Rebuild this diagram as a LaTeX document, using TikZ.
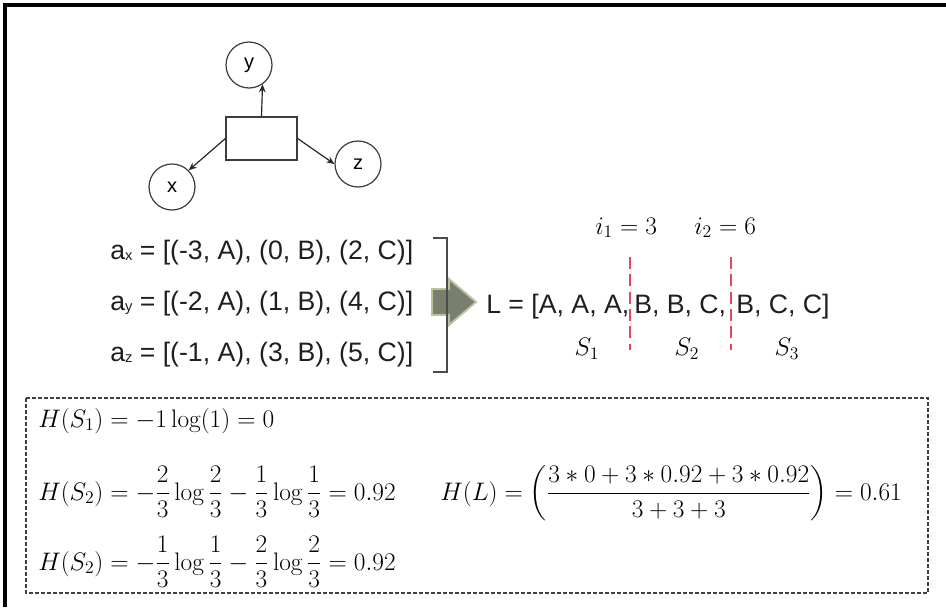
\RequirePackage{fix-cm}
\documentclass[tikz,border=0pt]{standalone}
\usepackage{fontspec}
\usepackage{amsmath}
\newfontfamily\arialf{Liberation Sans}
\usetikzlibrary{arrows.meta}
\definecolor{arrowfill}{RGB}{122,126,110}
\definecolor{arrowglow}{RGB}{182,196,156}
\definecolor{dashred}{RGB}{232,70,90}
\definecolor{linegray}{RGB}{60,60,60}
\begin{document}
\begin{tikzpicture}[x=0.75pt,y=-0.75pt,
  circ/.style={circle,draw=linegray,line width=0.9pt,minimum size=34.5pt,inner sep=0pt,
    font=\arialf\fontsize{15}{15}\selectfont},
  boxnode/.style={rectangle,draw=linegray,line width=0.9pt,minimum width=53.25pt,minimum height=32.25pt,inner sep=0pt},
  conn/.style={-{Stealth[length=6pt,width=5pt]},line width=0.9pt,draw=black!85},
  seq/.style={inner sep=0pt,font=\arialf\fontsize{20}{23}\selectfont,text=black!88},
  mth/.style={inner sep=0pt,font=\fontsize{19}{22}\selectfont,text=black},
  reddash/.style={draw=dashred,line width=1.6pt,dash pattern=on 9pt off 4pt},
  boxdash/.style={draw=black!75,line width=1.4pt,dash pattern=on 3pt off 1.5pt},
  brk/.style={draw=black!70,line width=1pt}
]
\useasboundingbox (0,0) rectangle (946,607);
\fill[white] (0,0) rectangle (946,607);
% outer frame (top and left edges visible)
\draw[line width=2.4pt] (946,5) -- (5,5) -- (5,607);

% small graph
\node[circ] (y) at (249,65) {y};
\node[circ] (x) at (172,187) {x};
\node[circ] (z) at (358,164) {z};
\node[boxnode] (r) at (261.5,138.5) {};
\draw[conn] (r.north) -- (y.-55);
\draw[conn] (r.west) -- (x.45);
\draw[conn] (r.east) -- (z.west);

% coordinate lists
\node[seq,anchor=base west] (ax) at (110,259) {a\raisebox{-1pt}{\fontsize{11}{11}\selectfont x} = [(-3, A), (0, B), (2, C)]};
\node[seq,anchor=base west] (ay) at (110,310) {a\raisebox{-1pt}{\fontsize{11}{11}\selectfont y} = [(-2, A), (1, B), (4, C)]};
\node[seq,anchor=base west] (az) at (110,361) {a\raisebox{-1pt}{\fontsize{11}{11}\selectfont z} = [(-1, A), (3, B), (5, C)]};

% block arrow
\fill[arrowfill,draw=arrowglow,line width=1.4pt]
  (432,289) -- (449,289) -- (449,279) -- (476,302) -- (449,325) -- (449,315) -- (432,315) -- cycle;

% bracket
\coordinate (bt) at (433,238);
\coordinate (bb) at (433,372);
\draw[brk] (bt) -- ++(14,0) |- (bb);

% merged list
\node[seq,anchor=base west] (L1) at (486,313) {L = [A, A, A,};
\node[seq,anchor=base west] (L2) at (634,313) {B, B, C,};
\node[seq,anchor=base west] (L3) at (736,313) {B, C, C]};
\node[mth,anchor=base west] (i1) at (595,234) {$i_1 = 3$};
\node[mth,anchor=base west] (i2) at (694,234) {$i_2 = 6$};
\node[mth] (s1) at (587,349) {$S_1$};
\node[mth] (s2) at (687,349) {$S_2$};
\node[mth] (s3) at (787,349) {$S_3$};
\coordinate (d1t) at (630,257);
\coordinate (d1b) at (630,350);
\coordinate (d2t) at (731,257);
\coordinate (d2b) at (731,350);
\draw[reddash] (d1t) -- (d1b);
\draw[reddash] (d2t) -- (d2b);

% entropy box
\draw[boxdash] (26,398) rectangle (928,593);
\node[mth,anchor=base west] (h1) at (38,427) {$H(S_1) = -1\log(1) = 0$};
\node[mth,anchor=base west] (h2) at (38,500) {$H(S_2) = -\dfrac{2}{3}\log\dfrac{2}{3} - \dfrac{1}{3}\log\dfrac{1}{3} = 0.92$};
\node[mth,anchor=base west] (h3) at (38,570) {$H(S_2) = -\dfrac{1}{3}\log\dfrac{1}{3} - \dfrac{2}{3}\log\dfrac{2}{3} = 0.92$};
\node[mth,anchor=base west] (hl) at (440,500) {$H(L) = \left(\dfrac{3\ast 0 + 3\ast 0.92 + 3\ast 0.92}{3+3+3}\right) = 0.61$};
\end{tikzpicture}
\end{document}
